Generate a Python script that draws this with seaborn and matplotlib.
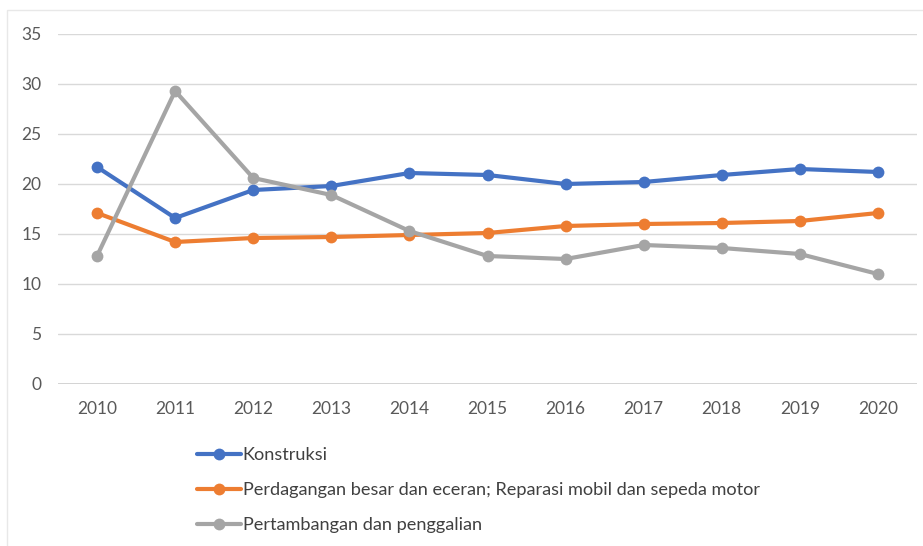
import pandas as pd
import matplotlib
matplotlib.use("Agg")
import matplotlib.pyplot as plt
import seaborn as sns
from matplotlib.patches import Rectangle

# Data
years = [2010, 2011, 2012, 2013, 2014, 2015, 2016, 2017, 2018, 2019, 2020]
konstruksi = [21.7, 16.6, 19.4, 19.8, 21.1, 20.9, 20.0, 20.2, 20.9, 21.5, 21.2]
perdagangan = [17.1, 14.2, 14.6, 14.7, 14.9, 15.1, 15.8, 16.0, 16.1, 16.3, 17.1]
pertambangan = [12.8, 29.3, 20.6, 18.9, 15.3, 12.8, 12.5, 13.9, 13.6, 13.0, 11.0]

series_names = [
    "Konstruksi",
    "Perdagangan besar dan eceran; Reparasi mobil dan sepeda motor",
    "Pertambangan dan penggalian",
]
colors = ["#4472C4", "#ED7D31", "#A5A5A5"]

sns.set_theme(style="white")
plt.rcParams['font.family'] = ['Lato', 'DejaVu Sans']

df = pd.DataFrame({
    "Tahun": years * 3,
    "Nilai": konstruksi + perdagangan + pertambangan,
    "Sektor": [series_names[0]] * len(years)
              + [series_names[1]] * len(years)
              + [series_names[2]] * len(years),
})

fig = plt.figure(figsize=(9.23, 5.46), dpi=100)

# faint chart-area border, cropped at right and bottom like the screenshot
fig.patches.append(Rectangle((7 / 923, -0.05), 1.1, 1 - 10 / 546 + 0.05,
                             transform=fig.transFigure, fill=False,
                             edgecolor="#E8E8E8", linewidth=1))

ax = fig.add_axes([58 / 923, 1 - 384 / 546, (917 - 58) / 923, 350 / 546])

sns.lineplot(data=df, x="Tahun", y="Nilai", hue="Sektor", palette=colors,
             hue_order=series_names, marker="o", markersize=8.5,
             markeredgewidth=0, linewidth=3, ax=ax, legend=False)

ax.set_ylim(0, 35)
ax.set_yticks(range(0, 36, 5))
ax.set_xlim(years[0] - 0.5, years[-1] + 0.5)
ax.set_xticks(years)
ax.set_xlabel("")
ax.set_ylabel("")
ax.grid(axis="y", color="#D9D9D9", linewidth=1)
ax.set_axisbelow(True)
for s in ["top", "right", "left", "bottom"]:
    ax.spines[s].set_visible(False)
ax.axhline(0, color="#D0D0D0", linewidth=1.3, zorder=0)
ax.tick_params(axis="both", length=0, labelsize=12.5, labelcolor="#595959")
ax.tick_params(axis="x", pad=12)
ax.tick_params(axis="y", pad=12)

# legend below the plot, stacked vertically
handles = [plt.Line2D([], [], color=c, linewidth=3, marker="o", markersize=8.5,
                      markeredgewidth=0) for c in colors]
fig.legend(handles, series_names, loc="upper left",
           bbox_to_anchor=(190 / 923, 1 - 440 / 546), frameon=False,
           fontsize=13.1, labelcolor="#404040", handlelength=2.4,
           handletextpad=0.1, labelspacing=1.05, borderaxespad=0)

fig.savefig("out.png", dpi=100, facecolor="white")
